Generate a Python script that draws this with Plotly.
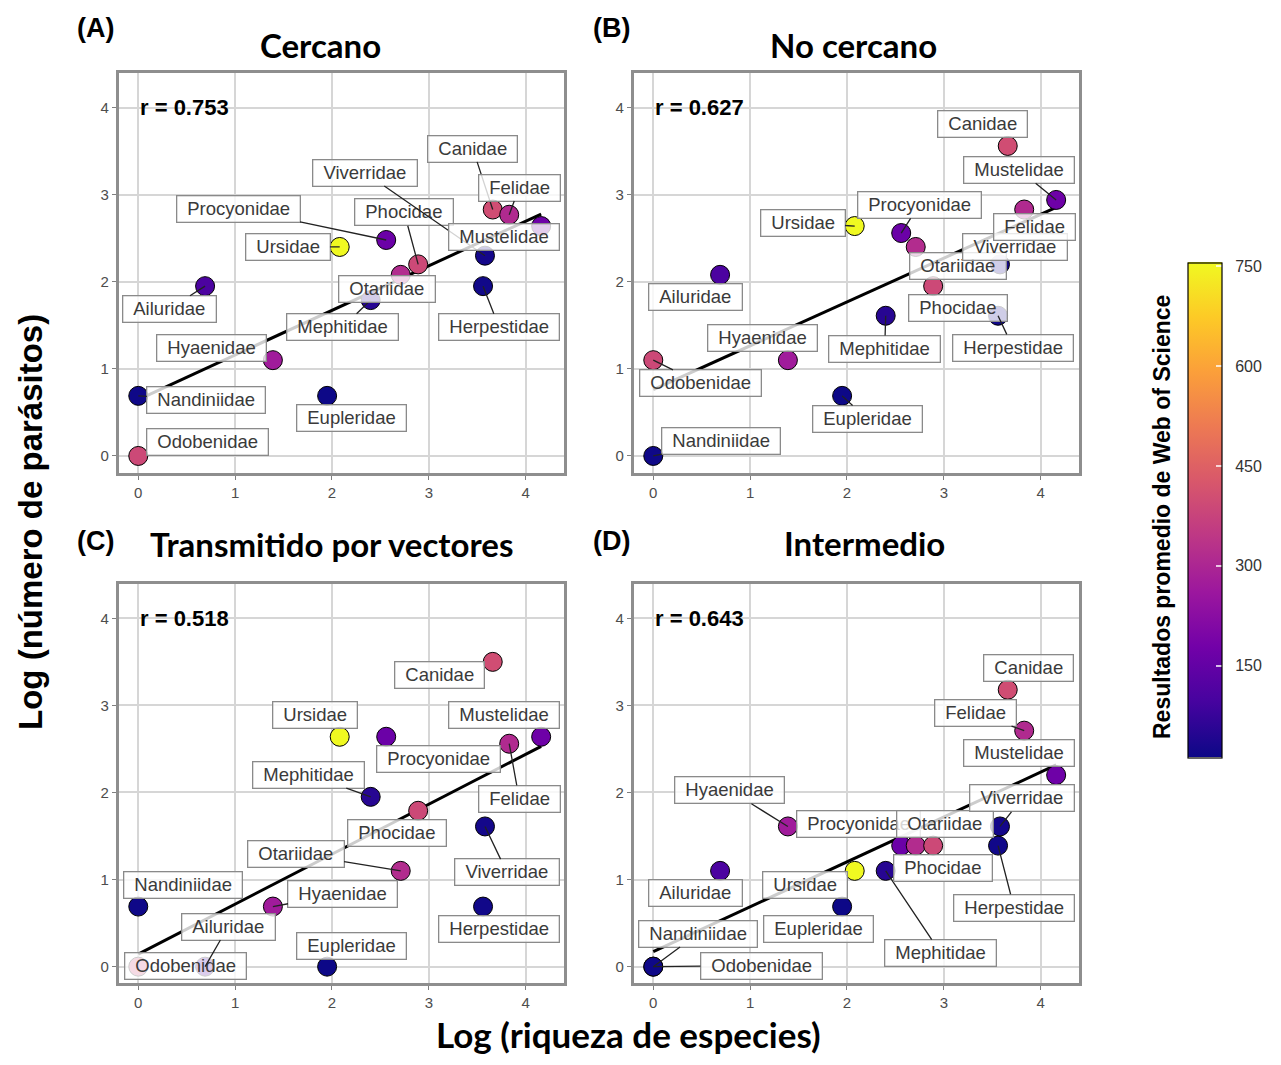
import numpy as np
import plotly.graph_objects as go

# ---------------- data ----------------
families = ["Odobenidae", "Nandiniidae", "Ailuridae", "Hyaenidae", "Eupleridae",
            "Ursidae", "Mephitidae", "Procyonidae", "Otariidae", "Phocidae",
            "Herpestidae", "Viverridae", "Canidae", "Felidae", "Mustelidae"]
log_richness = [0.00, 0.00, 0.69, 1.39, 1.95, 2.08, 2.40, 2.56, 2.71, 2.89,
                3.56, 3.58, 3.66, 3.83, 4.16]
wos_results = [390, 15, 105, 270, 12, 756, 50, 165, 315, 390, 18, 22, 400, 310, 170]

y_cercano = [0.00, 0.69, 1.95, 1.10, 0.69, 2.40, 1.79, 2.48, 2.08, 2.20,
             1.95, 2.30, 2.83, 2.77, 2.64]
y_no_cercano = [1.10, 0.00, 2.08, 1.10, 0.69, 2.64, 1.61, 2.56, 2.40, 1.95,
                1.61, 2.20, 3.56, 2.83, 2.94]
y_vectores = [0.00, 0.69, 0.00, 0.69, 0.00, 2.64, 1.95, 2.64, 1.10, 1.79,
              0.69, 1.61, 3.50, 2.56, 2.64]
y_intermedio = [0.00, 0.00, 1.10, 1.61, 0.69, 1.10, 1.10, 1.39, 1.39, 1.39,
                1.39, 1.61, 3.18, 2.71, 2.20]

r_values = ["0.753", "0.627", "0.518", "0.643"]
panel_titles = ["Cercano", "No cercano", "Transmitido por vectores", "Intermedio"]
panel_letters = ["(A)", "(B)", "(C)", "(D)"]
x_ticks = [0, 1, 2, 3, 4]
y_ticks = [0, 1, 2, 3, 4]
cbar_ticks = [150, 300, 450, 600, 750]

# ---------------- label layout (pixel offsets of label centre from point) ----------------
label_offsets = [
    {  # A
        "Canidae": (-20, -61), "Viverridae": (-120, -83), "Felidae": (10, -27),
        "Procyonidae": (-148, -31), "Phocidae": (-14, -52), "Ursidae": (-52, 0),
        "Mustelidae": (-37, 11), "Otariidae": (-14, 14), "Ailuridae": (-36, 23),
        "Mephitidae": (-28, 27), "Herpestidae": (16, 41), "Hyaenidae": (-61, -12),
        "Nandiniidae": (68, 4), "Eupleridae": (24, 22), "Odobenidae": (69, -14),
    },
    {  # B
        "Canidae": (-25, -22), "Mustelidae": (-37, -30), "Procyonidae": (18, -28),
        "Ursidae": (-52, -3), "Felidae": (10, 17), "Viverridae": (15, -17),
        "Otariidae": (42, 19), "Ailuridae": (-25, 22), "Phocidae": (25, 22),
        "Herpestidae": (15, 32), "Mephitidae": (-1, 33), "Hyaenidae": (-25, -22),
        "Odobenidae": (47, 23), "Eupleridae": (25, 23), "Nandiniidae": (68, -15),
    },
    {  # C
        "Canidae": (-53, 13), "Ursidae": (-25, -22), "Mustelidae": (-37, -22),
        "Procyonidae": (52, 22), "Mephitidae": (-62, -22), "Felidae": (10, 55),
        "Phocidae": (-21, 22), "Otariidae": (-105, -17), "Viverridae": (22, 46),
        "Nandiniidae": (45, -22), "Hyaenidae": (70, -13), "Herpestidae": (16, 22),
        "Ailuridae": (23, -40), "Eupleridae": (24, -21), "Odobenidae": (47, -1),
    },
    {  # D
        "Canidae": (21, -22), "Felidae": (-49, -18), "Mustelidae": (-37, -22),
        "Hyaenidae": (-58, -36), "Viverridae": (22, -28), "Otariidae": (29, -22),
        "Procyonidae": (-43, -22), "Phocidae": (10, 22), "Herpestidae": (16, 62),
        "Ailuridae": (-25, 22), "Ursidae": (-50, 14), "Eupleridae": (-24, 22),
        "Mephitidae": (55, 82), "Nandiniidae": (45, -33), "Odobenidae": (108, -1),
    },
]

# ---------------- geometry (screen pixels; page body has an 8px margin) ----------------
OFF = 8
W, H = 1265, 1049
XR = [-0.2, 4.4]
YR = [-0.19, 4.4]
col_px = [(118.9, 564.4), (633.9, 1079.4)]
row_px = [(72.8, 472.5), (583.5, 983.2)]

ARIAL_W = {"A": 667, "C": 722, "E": 667, "F": 611, "H": 722, "M": 833, "N": 722,
           "O": 778, "P": 667, "U": 722, "V": 667, "a": 556, "b": 556, "c": 500,
           "d": 556, "e": 556, "f": 278, "h": 556, "i": 222, "l": 222, "m": 833,
           "n": 556, "o": 556, "p": 556, "r": 333, "s": 500, "t": 278, "u": 556,
           "v": 500, "y": 500}
LABEL_FS = 18.5


def text_w(s, size):
    return sum(ARIAL_W.get(c, 556) for c in s) / 1000.0 * size


def px_x(p):
    return (p - OFF) / W


def px_y(p):
    return 1 - (p - OFF) / H


fig = go.Figure()
panel_y = [y_cercano, y_no_cercano, y_vectores, y_intermedio]
annotations = []

for i, ys in enumerate(panel_y):
    r, c = divmod(i, 2)
    sfx = "" if i == 0 else str(i + 1)
    xa, ya = "x" + sfx, "y" + sfx

    slope, icpt = np.polyfit(log_richness, ys, 1)
    xl = np.array([min(log_richness), max(log_richness)])
    fig.add_trace(go.Scatter(x=xl, y=icpt + slope * xl, mode="lines",
                             line=dict(color="black", width=3),
                             xaxis=xa, yaxis=ya, hoverinfo="skip", showlegend=False))
    marker = dict(size=19, color=wos_results, colorscale="Plasma", cmin=12, cmax=756,
                  line=dict(color="black", width=1), showscale=(i == 0))
    if i == 0:
        marker["colorbar"] = dict(
            x=px_x(1188), xanchor="left", xpad=0, ypad=0,
            y=px_y(510), yanchor="middle", len=495, lenmode="pixels",
            thickness=34, thicknessmode="pixels",
            outlinecolor="black", outlinewidth=1.2,
            tickvals=cbar_ticks,
            ticktext=["\u00a0\u00a0" + str(t) for t in cbar_ticks],
            ticks="inside", ticklen=6, tickcolor="rgba(255,255,255,0.75)", tickwidth=1.5,
            tickfont=dict(family="Arial", size=16, color="#333333"),
        )
    fig.add_trace(go.Scatter(x=log_richness, y=ys, mode="markers", marker=marker,
                             text=families, xaxis=xa, yaxis=ya, showlegend=False))

    axis_common = dict(showgrid=True, gridcolor="#d6d6d6", gridwidth=1.6,
                       zeroline=False, showline=True, mirror=True,
                       linecolor="#8e8e8e", linewidth=3,
                       ticks="outside", ticklen=4, tickwidth=1.3, tickcolor="#7f7f7f",
                       tickfont=dict(family="Arial", size=15, color="#4d4d4d"))
    fig.update_layout(**{
        "xaxis" + sfx: dict(domain=[px_x(col_px[c][0]), px_x(col_px[c][1])],
                            range=XR, tickvals=x_ticks, anchor=ya, **axis_common),
        "yaxis" + sfx: dict(domain=[px_y(row_px[r][1]), px_y(row_px[r][0])],
                            range=YR, tickvals=y_ticks, anchor=xa, **axis_common),
    })

    # r annotation
    annotations.append(dict(x=0, y=4, xref=xa, yref=ya, text="r = " + r_values[i],
                            showarrow=False, xanchor="left", yanchor="middle",
                            font=dict(family="Arial", size=22, color="black", weight="bold")))

    # family labels
    offs = label_offsets[i]
    for fam, xv, yv in zip(families, log_richness, ys):
        dx, dy = offs[fam]
        tw = text_w(fam, LABEL_FS)
        bw = tw + 16
        hw, hh = (bw + 4) / 2.0, 13.0
        gap = np.hypot(max(abs(dx) - hw, 0), max(abs(dy) - hh, 0))
        acol = "#222222" if gap > 9 else "rgba(0,0,0,0)"
        annotations.append(dict(
            x=xv, y=yv, xref=xa, yref=ya, text=fam, showarrow=True,
            ax=dx, ay=dy, axref="pixel", ayref="pixel",
            arrowhead=0, arrowwidth=1.3, arrowcolor=acol, standoff=0,
            font=dict(family="Arial", size=LABEL_FS, color="#3a3a3a"),
            bgcolor="rgba(255,255,255,0.8)", bordercolor="#8a8a8a", borderwidth=1.3,
            borderpad=2, width=bw, height=21, align="center",
        ))

# panel letters and titles
letter_pos = [(95, 28), (611, 28), (95, 541), (611, 541)]
title_pos = [(320, 45), (853, 45), (331, 544), (864, 543)]
for i in range(4):
    lx, ly = letter_pos[i]
    annotations.append(dict(x=px_x(lx), y=px_y(ly), xref="paper", yref="paper",
                            text=panel_letters[i], showarrow=False,
                            xanchor="center", yanchor="middle",
                            font=dict(family="Arial", size=27, color="black", weight="bold")))
    tx, ty = title_pos[i]
    annotations.append(dict(x=px_x(tx), y=px_y(ty), xref="paper", yref="paper",
                            text=panel_titles[i], showarrow=False,
                            xanchor="center", yanchor="middle",
                            font=dict(family="Lato", size=33, color="black", weight="bold")))

# axis titles
annotations.append(dict(x=px_x(30), y=px_y(522), xref="paper", yref="paper",
                        text="Log (número de parásitos)", textangle=-90, showarrow=False,
                        xanchor="center", yanchor="middle",
                        font=dict(family="Arial", size=33, color="black", weight="bold")))
annotations.append(dict(x=px_x(628), y=0, xref="paper", yref="paper",
                        text="Log (riqueza de especies)", showarrow=False,
                        xanchor="center", yanchor="bottom",
                        font=dict(family="Lato", size=35, color="black", weight="bold")))
annotations.append(dict(x=px_x(1162), y=px_y(517), xref="paper", yref="paper",
                        text="Resultados promedio de Web of Science", textangle=-90,
                        showarrow=False, xanchor="center", yanchor="middle",
                        font=dict(family="Arial", size=23, color="black", weight="bold")))

fig.update_layout(width=W, height=H, autosize=False,
                  margin=dict(l=0, r=0, t=0, b=0, pad=0),
                  paper_bgcolor="white", plot_bgcolor="white",
                  annotations=annotations, showlegend=False)

fig.write_html("out.html")
